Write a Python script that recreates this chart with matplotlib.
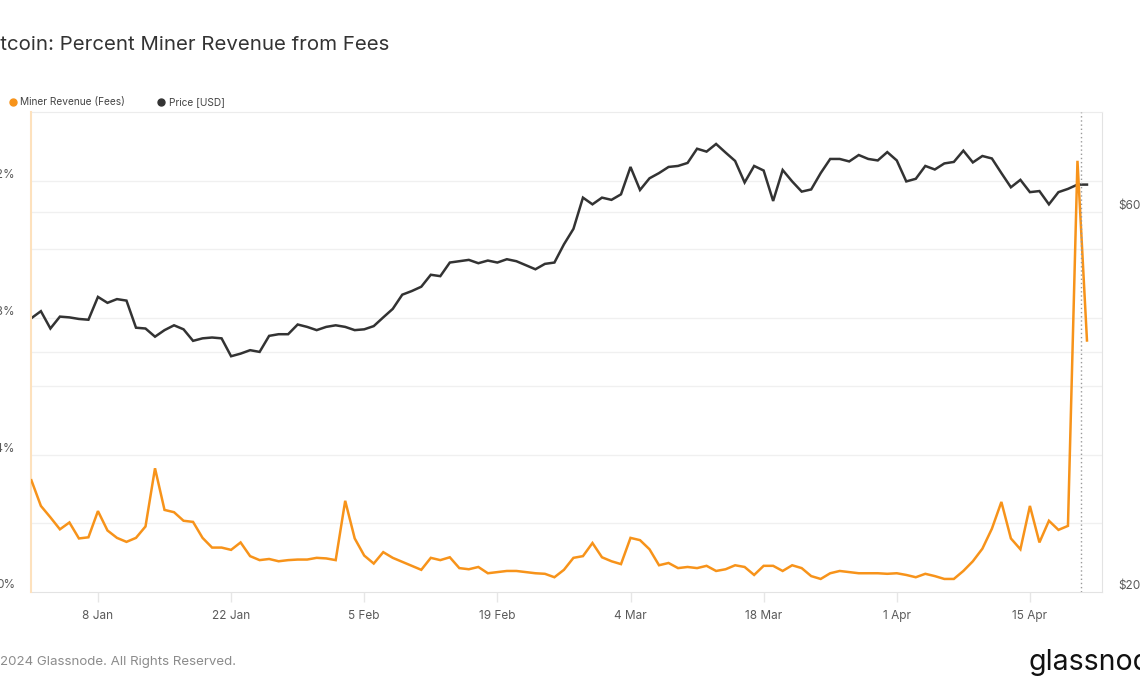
import matplotlib
matplotlib.use("Agg")
import matplotlib.pyplot as plt
import matplotlib.dates as mdates
from matplotlib.lines import Line2D
import numpy as np
import pandas as pd

plt.rcParams['font.family'] = ['Inter', 'DejaVu Sans']

# ---------------- data ----------------
start_date = "2024-01-01"
fees_pct = [
    19.5, 15.0, 13.0, 10.9, 12.1, 9.3, 9.5, 14.1, 10.7, 9.4,
    8.7, 9.4, 11.4, 21.6, 14.3, 13.9, 12.4, 12.2, 9.4, 7.7,
    7.7, 7.3, 8.6, 6.2, 5.5, 5.7, 5.3, 5.5, 5.6, 5.6,
    5.9, 5.8, 5.5, 15.9, 9.3, 6.3, 4.9, 6.9, 5.9, 5.2,
    4.5, 3.8, 5.9, 5.5, 6.0, 4.1, 3.9, 4.3, 3.2, 3.4,
    3.6, 3.6, 3.4, 3.2, 3.1, 2.5, 3.8, 5.9, 6.2, 8.5,
    6.0, 5.3, 4.8, 9.4, 9.0, 7.4, 4.6, 5.0, 4.1, 4.3,
    4.1, 4.5, 3.6, 3.9, 4.6, 4.3, 2.9, 4.5, 4.5, 3.6,
    4.6, 4.1, 2.7, 2.2, 3.2, 3.6, 3.4, 3.2, 3.2, 3.2,
    3.1, 3.2, 2.9, 2.5, 3.1, 2.7, 2.2, 2.2, 3.6, 5.3,
    7.5, 11.0, 15.7, 9.3, 7.4, 15.0, 8.6, 12.4, 10.8, 11.5,
    75.5, 44.0,
]
price_k = [
    44.1, 45.0, 42.8, 44.3, 44.2, 44.0, 43.9, 46.9, 46.1, 46.6,
    46.4, 42.9, 42.8, 41.8, 42.6, 43.2, 42.7, 41.3, 41.6, 41.7,
    41.6, 39.5, 39.8, 40.2, 40.0, 41.9, 42.1, 42.1, 43.3, 43.0,
    42.6, 43.0, 43.2, 43.0, 42.6, 42.7, 43.1, 44.2, 45.3, 47.2,
    47.7, 48.3, 50.0, 49.8, 51.8, 52.0, 52.2, 51.7, 52.1, 51.8,
    52.3, 52.0, 51.4, 50.8, 51.6, 51.8, 54.6, 57.1, 62.5, 61.3,
    62.5, 62.1, 63.1, 68.3, 63.9, 66.1, 67.1, 68.3, 68.5, 69.1,
    72.0, 71.4, 73.0, 71.2, 69.5, 65.3, 68.5, 67.6, 61.9, 67.7,
    65.5, 63.6, 64.0, 67.1, 69.9, 69.9, 69.4, 70.7, 69.9, 69.6,
    71.3, 69.6, 65.5, 66.0, 68.5, 67.8, 69.0, 69.3, 71.6, 69.2,
    70.5, 70.0, 67.1, 64.4, 65.8, 63.5, 63.7, 61.3, 63.5, 64.1,
    64.9, 64.9,
]
left_ticks = [0, 24, 48, 72]
left_labels = ["0%", "24%", "48%", "72%"]
left_grid = [12, 24, 36, 48, 60, 72]
right_ticks = [20000, 60000]
right_labels = ["$20k", "$60k"]
right_grid = [40000, 60000]
x_tick_dates = ["2024-01-08", "2024-01-22", "2024-02-05", "2024-02-19",
                "2024-03-04", "2024-03-18", "2024-04-01", "2024-04-15"]
marker_date = "2024-04-20 09:00"

dates = pd.date_range(start_date, periods=len(fees_pct), freq="D")
price = np.array(price_k) * 1000

# ---------------- colours ----------------
ORANGE = "#f7931a"
DARK = "#333333"
GRID = "#f0f0f0"
TXT = "#5a5a5a"

W, H = 1140, 694
fig = plt.figure(figsize=(W / 100, H / 100), dpi=100)
fig.patch.set_facecolor("white")

ax = fig.add_axes([31 / W, (H - 591.5) / H, 1071 / W, 479.2 / H])
ax2 = ax.twinx()
ax.set_zorder(2)
ax2.set_zorder(1)
ax.patch.set_visible(False)
ax2.patch.set_facecolor("white")

x0 = mdates.date2num(pd.Timestamp(start_date))
ax.set_xlim(x0 - 0.04, x0 + 112.58)
ax.set_ylim(0, 84)
ax2.set_yscale("log")
ax2.set_ylim(20000, 80000)

# gridlines (drawn in the lower axes)
for v in left_grid:
    ax2.plot([0, 1], [v, v], transform=ax.get_yaxis_transform(),
             color=GRID, lw=1.0, zorder=0)
for v in right_grid:
    ax2.plot([0, 1], [v, v], transform=ax2.get_yaxis_transform(),
             color=GRID, lw=1.0, zorder=0)

# series
ax2.plot(dates, price, color=DARK, lw=1.8, zorder=3, solid_joinstyle="miter")
ax.plot(dates, fees_pct, color=ORANGE, lw=1.8, zorder=4, solid_joinstyle="miter")

# dotted marker
ax.axvline(pd.Timestamp(marker_date), color="#9a9a9a", lw=1.0,
           linestyle=(0, (1, 2)), zorder=5)

# spines
for a in (ax, ax2):
    for s in a.spines.values():
        s.set_visible(False)
ax.spines["left"].set_visible(True)
ax.spines["left"].set_color("#fde1bd")
ax.spines["left"].set_linewidth(1.5)
ax2.spines["right"].set_visible(True)
ax2.spines["right"].set_color("#e3e3e3")
ax2.spines["top"].set_visible(True)
ax2.spines["top"].set_color("#ececec")
ax2.spines["bottom"].set_visible(True)
ax2.spines["bottom"].set_color("#e3e3e3")

# x axis
ax.set_xticks([pd.Timestamp(d) for d in x_tick_dates])
ax.xaxis.set_major_formatter(mdates.DateFormatter("%-d %b"))
ax.tick_params(axis="x", length=7, width=1, color="#e6e6e6", pad=6,
               labelsize=8.5, labelcolor=TXT)
ax2.tick_params(axis="x", length=0)

# left y axis
ax.set_yticks(left_ticks)
ax.set_yticklabels(left_labels)
ax.tick_params(axis="y", length=0, pad=11.5, labelsize=8.5, labelcolor=TXT)
plt.setp(ax.get_yticklabels(), va="bottom")

# right y axis
ax2.yaxis.set_minor_locator(matplotlib.ticker.NullLocator())
ax2.set_yticks(right_ticks)
ax2.set_yticklabels(right_labels)
ax2.tick_params(axis="y", length=0, pad=11.5, labelsize=8.5, labelcolor=TXT)
plt.setp(ax2.get_yticklabels(), va="bottom")

# ---------------- texts ----------------
renderer = fig.canvas.get_renderer()


def cut_left_text(full, suffix, y, **kw):
    t = fig.text(0, y, full, **kw)
    tmp = fig.text(0, y, suffix, **kw)
    w = t.get_window_extent(renderer).width - tmp.get_window_extent(renderer).width
    tmp.remove()
    t.set_x(-w / W)
    return t


cut_left_text("Bitcoin: Percent Miner Revenue from Fees",
              "tcoin: Percent Miner Revenue from Fees",
              1 - 44.5 / H, fontsize=14.7, color="#333333", va="center", ha="left")
cut_left_text("\u00a9 2024 Glassnode. All Rights Reserved.",
              "2024 Glassnode. All Rights Reserved.",
              1 - 662 / H, fontsize=9.6, color="#8c8c8c", va="center", ha="left")
fig.text(1029 / W, 1 - 662 / H, "glassnode", fontsize=20.5, color="#111111",
         va="center", ha="left")

# legend
ly = 1 - 101.7 / H
fig.add_artist(Line2D([12.7 / W], [ly], marker="o", markersize=5, color=ORANGE,
                      linestyle="", transform=fig.transFigure))
fig.text(20 / W, ly, "Miner Revenue (Fees)", fontsize=7.3, color="#444444",
         va="center", ha="left")
fig.add_artist(Line2D([160.7 / W], [ly], marker="o", markersize=5, color=DARK,
                      linestyle="", transform=fig.transFigure))
fig.text(169 / W, ly, "Price [USD]", fontsize=7.3, color="#444444",
         va="center", ha="left")

fig.savefig("out.png", dpi=100, facecolor="white")
